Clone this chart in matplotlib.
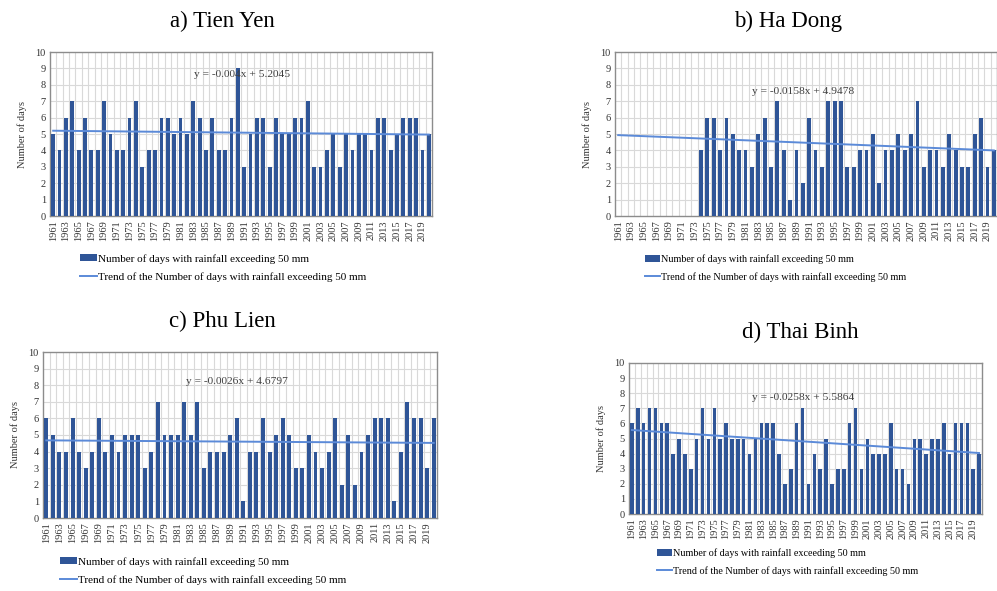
##set up
import numpy as np
import matplotlib.pyplot as plt
from matplotlib.patches import Patch
from matplotlib.lines import Line2D

plt.rcParams['font.family'] = ['Liberation Serif', 'DejaVu Serif']

years = list(range(1961, 2021))

## days with rainfall > 50 mm at each station
tien_yen = [5, 4, 6, 7, 4, 6, 4, 4, 7, 5, 4, 4, 6, 7, 3, 4, 4, 6, 6, 5,
            6, 5, 7, 6, 4, 6, 4, 4, 6, 9, 3, 5, 6, 6, 3, 6, 5, 5, 6, 6,
            7, 3, 3, 4, 5, 3, 5, 4, 5, 5, 4, 6, 6, 4, 5, 6, 6, 6, 4, 5]

# Ha Dong record only starts in 1974
ha_dong_start = 1974
ha_dong = [4, 6, 6, 4, 6, 5, 4, 4, 3, 5, 6, 3, 7, 4, 1, 4, 2, 6,
           4, 3, 7, 7, 7, 3, 3, 4, 4, 5, 2, 4, 4, 5, 4, 5, 7, 3, 4, 4,
           3, 5, 4, 3, 3, 5, 6, 3, 4]

phu_lien = [6, 5, 4, 4, 6, 4, 3, 4, 6, 4, 5, 4, 5, 5, 5, 3, 4, 7, 5, 5,
            5, 7, 5, 7, 3, 4, 4, 4, 5, 6, 1, 4, 4, 6, 4, 5, 6, 5, 3, 3,
            5, 4, 3, 4, 6, 2, 5, 2, 4, 5, 6, 6, 6, 1, 4, 7, 6, 6, 3, 6]

thai_binh = [6, 7, 6, 7, 7, 6, 6, 4, 5, 4, 3, 5, 7, 5, 7, 5, 6, 5, 5, 5,
             4, 5, 6, 6, 6, 4, 2, 3, 6, 7, 2, 4, 3, 5, 2, 3, 3, 6, 7, 3,
             5, 4, 4, 4, 6, 3, 3, 2, 5, 5, 4, 5, 5, 6, 4, 6, 6, 6, 3, 4]

## linear trend coefficients (slope, intercept), x = 1..60
trend_ty = (-0.004, 5.2045)
trend_hd = (-0.0158, 4.9478)
trend_pl = (-0.0026, 4.6797)
trend_tb = (-0.0258, 5.5864)

trend_text_ty = 'y = -0.004x + 5.2045'
trend_text_hd = 'y = -0.0158x + 4.9478'
trend_text_pl = 'y = -0.0026x + 4.6797'
trend_text_tb = 'y = -0.0258x + 5.5864'

bar_c = '#2F5597'
line_c = '#5B8AD8'
W, H = 997, 591

fig = plt.figure(figsize=(W / 100, H / 100), dpi=100)


def px_axes(left, top, right, bottom):
    return fig.add_axes([left / W, 1 - bottom / H, (right - left) / W, (bottom - top) / H])


def draw_panel(ax, vals, start, trend, eq, eq_pos, title, title_xy, leg_xy, leg_fs):
    x = np.arange(len(years))
    xs = np.arange(len(vals)) + (start - years[0])
    ax.bar(xs, vals, width=0.6, color=bar_c, zorder=3)
    i = np.arange(1, len(years) + 1)
    ax.plot(x, trend[0] * i + trend[1], color=line_c, lw=1.4, zorder=4)

    ax.set_xlim(-0.5, len(years) - 0.5)
    ax.set_ylim(0, 10)
    ax.set_yticks(range(0, 11))
    ax.set_xticks(x[::2])
    ax.set_xticklabels([str(y) for y in years[::2]], rotation=90, fontsize=7.5)
    ax.tick_params(axis='both', length=0, colors='#333333', pad=3)
    ax.tick_params(axis='y', labelsize=7.5)
    ax.set_ylabel('Number of days', fontsize=7.5, color='#333333', labelpad=6)

    ## grid: horizontal at each day, vertical between years
    for v in range(1, 10):
        ax.axhline(v, color='#d9d9d9', lw=0.8, zorder=1)
    for v in np.arange(0.5, len(years) - 0.5):
        ax.axvline(v, color='#d9d9d9', lw=0.8, zorder=1)
    for s in ax.spines.values():
        s.set_color('#8c8c8c')
        s.set_linewidth(1.0)

    ax.text(eq_pos[0], eq_pos[1], eq, fontsize=8.2, color='#404040',
            ha='center', va='center', zorder=5)

    fig.text(title_xy[0] / W, 1 - title_xy[1] / H, title, fontsize=16.5,
             ha='center', va='center')

    handles = [Patch(facecolor=bar_c, edgecolor='none'),
               Line2D([0], [0], color=line_c, lw=1.4)]
    labels = ['Number of days with rainfall exceeding 50 mm',
              'Trend of the Number of days with rainfall exceeding 50 mm']
    fig.legend(handles, labels, loc='center left',
               bbox_to_anchor=(leg_xy[0] / W, 1 - leg_xy[1] / H),
               frameon=False, fontsize=leg_fs, handlelength=1.5, handleheight=0.6,
               handletextpad=0.1, borderpad=0, borderaxespad=0, labelspacing=0.75)


## a) Tien Yen
ax1 = px_axes(50, 52, 432, 216)
draw_panel(ax1, tien_yen, 1961, trend_ty, trend_text_ty, (29.6, 8.6),
           'a) Tien Yen', (222, 21), (80, 268), 8)

## b) Ha Dong
ax2 = px_axes(615, 52, 997, 216)
draw_panel(ax2, ha_dong, ha_dong_start, trend_hd, trend_text_hd, (29.0, 7.6),
           'b) Ha Dong', (788, 21), (645, 268), 7.3)

## c) Phu Lien
ax3 = px_axes(43, 352, 437, 518)
draw_panel(ax3, phu_lien, 1961, trend_pl, trend_text_pl, (29.0, 8.2),
           'c) Phu Lien', (222, 321), (60, 571), 8)

## d) Thai Binh
ax4 = px_axes(629, 363, 982, 514)
draw_panel(ax4, thai_binh, 1961, trend_tb, trend_text_tb, (29.1, 7.7),
           'd) Thai Binh', (800, 332), (657, 562), 7.3)

##save
fig.savefig('out.png', dpi=100)
